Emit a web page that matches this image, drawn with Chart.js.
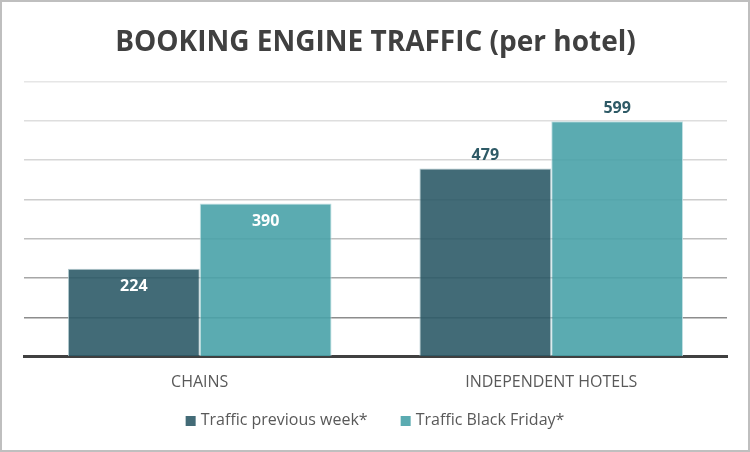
<!DOCTYPE html>
<html>
<head>
<meta charset="utf-8">
<script src="https://cdn.jsdelivr.net/npm/chart.js@4"></script>
<style>
  html, body { margin: 0; padding: 0; background: #fff; }
  #wrap {
    width: 750px; height: 452px; box-sizing: border-box;
    border: 2px solid #bfbfbf; position: relative;
  }
  canvas { display: block; }
</style>
</head>
<body>
<div id="wrap"><canvas id="trafficChart" width="746" height="448"></canvas></div>
<script>
// Chart data
const categories = ["CHAINS", "INDEPENDENT HOTELS"];
const previousWeek = [224, 479];
const blackFriday = [390, 599];
const yTicks = [0, 100, 200, 300, 400, 500, 600, 700];

// grid lines fade out towards the top, as in the original
const gridColors = ["#404040", "#8c8c8c", "#a6a6a6", "#bfbfbf", "#cccccc", "#d6d6d6", "#dedede", "#e6e6e6"];
const legendColors = ["#436b77", "#5babb1"];

// value labels: inside the bar for chains, above it for independent hotels
const valueLabels = {
    id: "valueLabels",
    afterDatasetsDraw(chart) {
        const ctx = chart.ctx;
        ctx.save();
        ctx.font = "bold 16px 'Open Sans'";
        ctx.textAlign = "center";
        ctx.textBaseline = "middle";
        chart.data.datasets.forEach((ds, di) => {
            const meta = chart.getDatasetMeta(di);
            meta.data.forEach((bar, i) => {
                const inside = i === 0;
                ctx.fillStyle = inside ? "#ffffff" : "#2e5a66";
                const y = inside ? bar.y + 18 : bar.y - 13;
                ctx.fillText(ds.data[i], bar.x, y);
            });
        });
        ctx.restore();
    }
};

// legend drawn by hand so the spacing between entries can match
const bottomLegend = {
    id: "bottomLegend",
    afterDraw(chart) {
        const ctx = chart.ctx;
        const y = 418;
        const box = 10, gap = 5, itemGap = 33;
        ctx.save();
        ctx.font = "16px 'Open Sans'";
        ctx.textBaseline = "middle";
        const items = chart.data.datasets.map((ds, i) => ({
            text: ds.label, color: legendColors[i], w: ctx.measureText(ds.label).width
        }));
        const total = items.reduce((s, it) => s + box + gap + it.w, 0) + itemGap * (items.length - 1);
        let x = (chart.width - total) / 2;
        items.forEach(it => {
            ctx.fillStyle = it.color;
            ctx.fillRect(x, y - box / 2 + 1, box, box);
            x += box + gap;
            ctx.fillStyle = "#595959";
            ctx.fillText(it.text, x, y);
            x += it.w + itemGap;
        });
        ctx.restore();
    }
};

const chart = new Chart(document.getElementById("trafficChart"), {
    type: "bar",
    data: {
        labels: categories,
        datasets: [{
            label: "Traffic previous week*",
            data: previousWeek,
            backgroundColor: "rgba(46, 91, 104, 0.9)",
            borderColor: "rgba(170, 195, 201, 0.9)",
            borderWidth: 1,
            categoryPercentage: 0.75,
            barPercentage: 1.0
        }, {
            label: "Traffic Black Friday*",
            data: blackFriday,
            backgroundColor: "rgba(73, 162, 168, 0.9)",
            borderColor: "rgba(190, 222, 225, 0.9)",
            borderWidth: 1,
            categoryPercentage: 0.75,
            barPercentage: 1.0
        }]
    },
    options: {
        responsive: false,
        animation: false,
        layout: { padding: { left: 22, right: 21, top: 0, bottom: 50 } },
        plugins: {
            title: {
                display: true,
                text: "BOOKING ENGINE TRAFFIC (per hotel)",
                color: "#404040",
                font: { family: "'Open Sans'", size: 28, weight: "bold" },
                padding: { top: 24, bottom: 22 }
            },
            legend: { display: false },
            tooltip: { enabled: false }
        },
        scales: {
            x: {
                grid: { display: false },
                border: { color: "#404040", width: 3 },
                ticks: {
                    color: "#595959",
                    font: { family: "'Open Sans'", size: 16 },
                    padding: 8
                }
            },
            y: {
                min: 0,
                max: yTicks[yTicks.length - 1],
                afterBuildTicks: axis => { axis.ticks = yTicks.map(v => ({ value: v })); },
                ticks: { display: false },
                border: { display: false },
                grid: {
                    color: c => gridColors[c.index] || "#d9d9d9",
                    lineWidth: 1.5,
                    drawTicks: false
                }
            }
        }
    },
    plugins: [valueLabels, bottomLegend]
});
</script>
</body>
</html>
